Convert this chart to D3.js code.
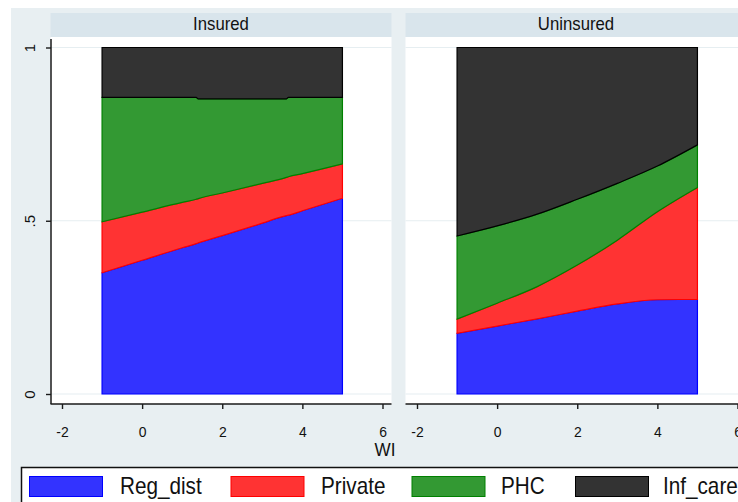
<!DOCTYPE html>
<html>
<head>
<meta charset="utf-8">
<script src="https://cdn.jsdelivr.net/npm/d3@7"></script>
<style>
  body { margin: 0; background: #fff; }
  text { font-family: Arial, "Liberation Sans", sans-serif; fill: #111; }
</style>
</head>
<body>
<div id="chart"></div>
<script>
/** categories, bottom of the stack first **/
var categories = ["Reg_dist", "Private", "PHC", "Inf_care"];
var panelNames = ["Insured", "Uninsured"];
var xTicks = [-2, 0, 2, 4, 6];
var yTicks = [0, 0.5, 1];

/** Insured panel **/
var wiInsured      = [-1, 0, 1, 1.35, 1.4, 2, 3, 3.6, 3.65, 4, 5];
var regInsured     = [.350, .386, .422, .434, .436, .457, .493, .515, .516, .529, .565];
var privInsured    = [.147, .139, .131, .128, .128, .123, .115, .110, .111, .107, .099];
var phcInsured     = [.359, .331, .303, .294, .288, .272, .244, .227, .229, .220, .192];
var infInsured     = [.144, .144, .144, .144, .148, .148, .148, .148, .144, .144, .144];

/** Uninsured panel **/
var wiUninsured    = [-1, 0, 1, 2, 3, 4, 5];
var regUninsured   = [.175, .196, .217, .239, .260, .272, .273];
var privUninsured  = [.041, .066, .093, .133, .184, .254, .323];
var phcUninsured   = [.240, .223, .209, .190, .164, .132, .123];
var infUninsured   = [.544, .515, .481, .438, .392, .342, .281];

var fills   = ["#3333ff", "#ff3333", "#339933", "#333333"];
var strokes = ["#0000ff", "#ff0000", "#008000", "#000000"];

function rows(wi, a, b, c, d) {
  return wi.map(function(w, i) {
    return { wi: w, Reg_dist: a[i], Private: b[i], PHC: c[i], Inf_care: d[i] };
  });
}
var panelData = [
  rows(wiInsured, regInsured, privInsured, phcInsured, infInsured),
  rows(wiUninsured, regUninsured, privUninsured, phcUninsured, infUninsured)
];

var W = 738, H = 502;
var svg = d3.select("#chart").append("svg")
            .attr("width", W)
            .attr("height", H);

/** outer background **/
svg.append("rect")
   .attr("x", 11).attr("y", 8)
   .attr("width", W - 11).attr("height", H - 8)
   .style("fill", "#e8eff2");

var plotLeft = [50.5, 405.5];
var plotW = 341;
var plotTop = 37, plotBottom = 404;

var y = d3.scaleLinear().domain([0, 1]).range([394, 47.5]);
var stack = d3.stack().keys(categories);

panelData.forEach(function(data, p) {
  var left = plotLeft[p], right = left + plotW;
  var x = d3.scaleLinear().domain([-2, 6]).range([left + 11.5, left + 332]);

  /** header strip **/
  svg.append("rect")
     .attr("x", left).attr("y", 13)
     .attr("width", plotW).attr("height", plotTop - 13)
     .style("fill", "#d9e5ec");
  svg.append("text")
     .attr("transform", "translate(" + ((left + right) / 2) + ",30) scale(0.93,1)")
     .attr("text-anchor", "middle")
     .style("font-size", "18px")
     .text(panelNames[p]);

  /** plot region **/
  svg.append("rect")
     .attr("x", left).attr("y", plotTop)
     .attr("width", plotW).attr("height", plotBottom - plotTop)
     .style("fill", "#fff");

  /** grid lines **/
  svg.append("g").selectAll("line")
     .data(yTicks).enter().append("line")
     .attr("x1", left).attr("x2", right)
     .attr("y1", function(d) { return y(d); })
     .attr("y2", function(d) { return y(d); })
     .style("stroke", "#e6eef1")
     .style("stroke-width", 1.2);

  /** stacked areas **/
  var area = d3.area()
               .curve(d3.curveMonotoneX)
               .x(function(d) { return x(d.data.wi); })
               .y0(function(d) { return y(d[0]); })
               .y1(function(d) { return y(d[1]); });

  svg.append("g").selectAll("path")
     .data(stack(data)).enter().append("path")
     .attr("d", area)
     .style("fill", function(d, i) { return fills[i]; })
     .style("stroke", function(d, i) { return strokes[i]; })
     .style("stroke-width", 1.2);

  /** x axis **/
  var gx = svg.append("g")
              .attr("transform", "translate(0," + plotBottom + ")")
              .call(d3.axisBottom(x).tickValues(xTicks).tickSize(5)
                      .tickFormat(function(d) { return String(d); }));
  gx.select(".domain").remove();
  gx.selectAll("line").style("stroke", "#1a1a1a").style("stroke-width", 1.4);
  gx.selectAll("text")
    .attr("dy", null)
    .attr("y", null)
    .attr("transform", "translate(0,32.5) scale(0.93,1)")
    .style("font-size", "15px")
    .style("fill", "#111")
    .style("font-family", "Arial, 'Liberation Sans', sans-serif");
  svg.append("line")
     .attr("x1", left).attr("x2", right)
     .attr("y1", plotBottom).attr("y2", plotBottom)
     .style("stroke", "#1a1a1a").style("stroke-width", 1.5);

  if (p === 0) {
    var gy = svg.append("g")
                .attr("transform", "translate(" + (left + 0.5) + ",0)")
                .call(d3.axisLeft(y).tickValues(yTicks).tickSize(5)
                        .tickFormat(function(d) { return d === 0.5 ? ".5" : String(d); }));
    gy.select(".domain").remove();
    gy.selectAll("line").style("stroke", "#1a1a1a").style("stroke-width", 1.4);
    gy.selectAll("text")
      .attr("x", 0).attr("y", -16).attr("dy", null)
      .attr("transform", "rotate(-90)")
      .attr("text-anchor", "middle")
      .style("font-size", "15px")
      .style("fill", "#111")
      .style("font-family", "Arial, 'Liberation Sans', sans-serif");
    svg.append("line")
       .attr("x1", left + 0.5).attr("x2", left + 0.5)
       .attr("y1", 39).attr("y2", plotBottom)
       .style("stroke", "#1a1a1a").style("stroke-width", 1.5);
  }
});

/** axis title **/
svg.append("text")
   .attr("transform", "translate(385,456) scale(0.9,1)")
   .attr("text-anchor", "middle")
   .style("font-size", "19px")
   .text("WI");

/** legend **/
svg.append("rect")
   .attr("x", 21.5).attr("y", 467.5)
   .attr("width", 740).attr("height", 60)
   .style("fill", "#fff")
   .style("stroke", "#111")
   .style("stroke-width", 1.5);

var swatchX = [29.5, 231, 412, 575.5];
var labelX = [120, 321, 501, 663];
var leg = svg.append("g").selectAll("g")
             .data(categories).enter().append("g");
leg.append("rect")
   .attr("x", function(d, i) { return swatchX[i]; })
   .attr("y", 476.5)
   .attr("width", 73).attr("height", 20)
   .style("fill", function(d, i) { return fills[i]; })
   .style("stroke", function(d, i) { return strokes[i]; })
   .style("stroke-width", 1);
leg.append("text")
   .attr("transform", function(d, i) { return "translate(" + labelX[i] + ",494) scale(0.9,1)"; })
   .style("font-size", "23px")
   .text(function(d) { return d; });
</script>
</body>
</html>
